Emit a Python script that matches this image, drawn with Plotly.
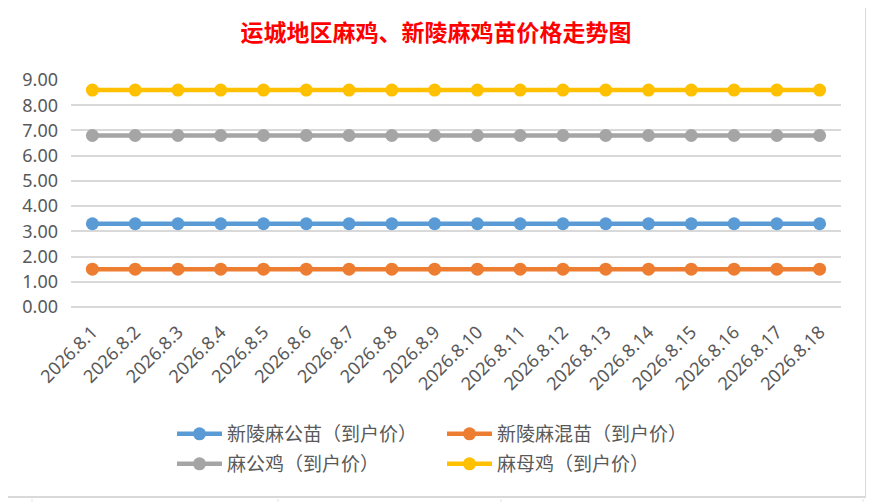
import plotly.graph_objects as go

# data
dates = [f"2026.8.{d}" for d in range(1, 19)]
gongmiao = [3.30] * 18   # 新陵麻公苗（到户价）
hunmiao = [1.50] * 18    # 新陵麻混苗（到户价）
gongji = [6.80] * 18     # 麻公鸡（到户价）
muji = [8.60] * 18       # 麻母鸡（到户价）

y_ticks = [0, 1, 2, 3, 4, 5, 6, 7, 8, 9]

series = [
    ("新陵麻公苗（到户价）", gongmiao, "#5B9BD5", "legend"),
    ("新陵麻混苗（到户价）", hunmiao, "#ED7D31", "legend"),
    ("麻公鸡（到户价）", gongji, "#A5A5A5", "legend2"),
    ("麻母鸡（到户价）", muji, "#FFC000", "legend2"),
]

W, H = 874, 502
OFF = 8  # page body margin: figure pixel (x, y) lands at screen (x+8, y+8)
# plot area in screen pixels
SX0, SX1, SY0, SY1 = 71, 841, 80, 307
L, T = SX0 - OFF, SY0 - OFF
R, B = W - (SX1 - OFF), H - (SY1 - OFF)
PW, PH = W - L - R, H - T - B


def px_x(x):
    return (x - SX0) / PW


def px_y(y):
    return (SY1 - y) / PH


fig = go.Figure()
for name, vals, color, leg in series:
    fig.add_trace(go.Scatter(
        x=dates, y=vals, name=name, mode="lines+markers",
        line=dict(color=color, width=4.5),
        marker=dict(color=color, size=13),
        legend=leg,
    ))

# chart border + faint spreadsheet grid peeking out around it
shapes = [dict(type="rect", xref="paper", yref="paper",
               x0=px_x(5), x1=px_x(866), y0=px_y(497), y1=px_y(4),
               line=dict(color="#D9D9D9", width=2), layer="below")]
for yy in range(23, 502, 36):
    shapes.append(dict(type="line", xref="paper", yref="paper",
                       x0=px_x(8), x1=px_x(4), y0=px_y(yy), y1=px_y(yy),
                       line=dict(color="#E3E3E3", width=1)))
    shapes.append(dict(type="line", xref="paper", yref="paper",
                       x0=px_x(867), x1=px_x(874), y0=px_y(yy), y1=px_y(yy),
                       line=dict(color="#E3E3E3", width=1)))
for xx in [32, 278, 501, 863]:
    shapes.append(dict(type="line", xref="paper", yref="paper",
                       x0=px_x(xx), x1=px_x(xx), y0=px_y(8), y1=px_y(3),
                       line=dict(color="#E3E3E3", width=1)))
    shapes.append(dict(type="line", xref="paper", yref="paper",
                       x0=px_x(xx), x1=px_x(xx), y0=px_y(499), y1=px_y(502),
                       line=dict(color="#E3E3E3", width=1)))

legend_style = dict(orientation="h", xanchor="left", yanchor="middle",
                    entrywidth=210, entrywidthmode="pixels",
                    font=dict(family="Noto Sans CJK SC", size=19, color="#595959"),
                    itemwidth=45, bgcolor="rgba(0,0,0,0)")

fig.update_layout(
    width=W, height=H,
    margin=dict(l=L, r=R, t=T, b=B, autoexpand=False),
    paper_bgcolor="white", plot_bgcolor="white",
    title=dict(text="<b>运城地区麻鸡、新陵麻鸡苗价格走势图</b>",
               x=px_x(436), xref="paper", xanchor="center",
               y=1 - (33 - OFF) / H, yref="container", yanchor="middle",
               font=dict(family="Noto Sans CJK SC", size=23, color="#FF0000")),
    font=dict(family="Noto Sans, Noto Sans CJK SC", color="#595959", size=18),
    xaxis=dict(type="category", range=[-0.5, len(dates) - 0.5], tickangle=-45,
               showgrid=False, automargin=False, ticklabelstandoff=10,
               showline=False, ticks="", tickfont=dict(size=18)),
    yaxis=dict(range=[0, 9], tickvals=y_ticks, tickformat=".2f", automargin=False,
               gridcolor="#D9D9D9", gridwidth=1.5, zeroline=True,
               zerolinecolor="#D9D9D9", zerolinewidth=1.5, ticklabelstandoff=12,
               showline=False, ticks="", tickfont=dict(size=18)),
    legend=dict(legend_style, x=px_x(172), y=px_y(434)),
    legend2=dict(legend_style, x=px_x(172), y=px_y(464)),
    shapes=shapes,
    showlegend=True,
)

fig.write_html("out.html")
